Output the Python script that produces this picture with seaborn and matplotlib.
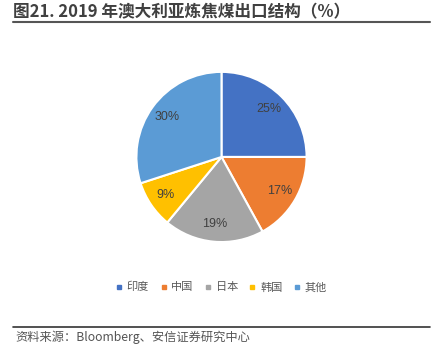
import matplotlib
matplotlib.use("Agg")
import matplotlib.pyplot as plt
import seaborn as sns
from matplotlib.lines import Line2D

sns.set_theme(style="white")
plt.rcParams['font.family'] = ['Noto Sans CJK SC', 'DejaVu Sans']

categories = ["印度", "中国", "日本", "韩国", "其他"]
values = [25, 17, 19, 9, 30]
colors = sns.color_palette(["#4472C4", "#ED7D31", "#A5A5A5", "#FFC000", "#5B9BD5"])

fig = plt.figure(figsize=(4.34, 3.6), dpi=100)
fig.patch.set_facecolor("white")

# title
fig.text(0.03, 0.967, "图21. 2019 年澳大利亚炼焦煤出口结构（%）", fontsize=12,
         fontweight="bold", color="#404040", ha="left", va="center")
fig.add_artist(Line2D([0.03, 0.99], [0.938, 0.938], color="#555555", lw=1.5))

ax = fig.add_axes([221.5 / 434 - 0.198, 0.564 - 0.239, 0.396, 0.478])
wedges, texts, autotexts = ax.pie(values, colors=colors, startangle=90, counterclock=False,
                                  autopct=lambda p: f"{p:.0f}%", pctdistance=0.79,
                                  wedgeprops=dict(edgecolor="white", linewidth=1.5),
                                  textprops=dict(color="#404040", fontsize=9,
                                                 family=["Liberation Sans", "DejaVu Sans"]))
ax.set_xlim(-1.01, 1.01)
ax.set_ylim(-1.01, 1.01)
ax.set_aspect("equal")

handles = [Line2D([0], [0], marker="s", color="none", markerfacecolor=c, markeredgecolor=c,
                  markersize=3.5) for c in colors]
fig.legend(handles, categories, loc="center", bbox_to_anchor=(0.51, 0.202), ncol=5,
           frameon=False, fontsize=8, labelcolor="#595959", handlelength=0.6,
           handletextpad=0.4, columnspacing=1.0)

fig.add_artist(Line2D([0.03, 0.99], [0.092, 0.092], color="#333333", lw=1.2))
fig.text(0.035, 0.064, "资料来源：Bloomberg、安信证券研究中心", fontsize=8.8, style="italic",
         color="#555555", ha="left", va="center")

fig.savefig("out.png", dpi=100, facecolor="white")
